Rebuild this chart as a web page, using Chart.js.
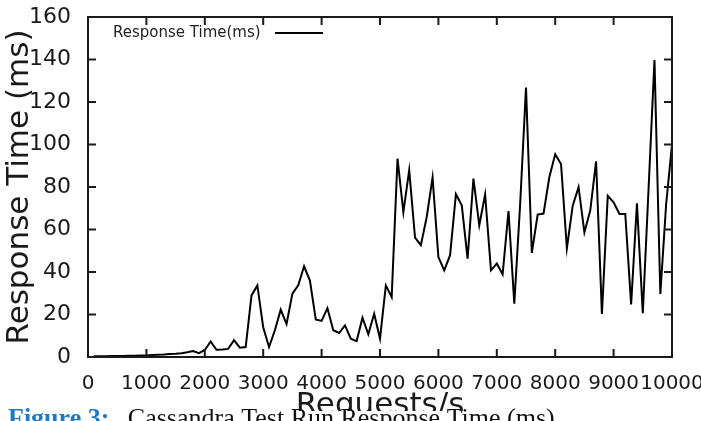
<!DOCTYPE html>
<html>
<head>
<meta charset="utf-8">
<script src="https://cdn.jsdelivr.net/npm/chart.js@4.4.1/dist/chart.umd.min.js"></script>
<style>
html,body{margin:0;padding:0;background:#fff;}
#wrap{width:701px;height:421px;position:relative;}
</style>
</head>
<body>
<div id="wrap"><canvas id="c" width="701" height="421"></canvas></div>
<script>
const requests = [100,200,300,400,500,600,700,800,900,1000,
 1100,1200,1300,1400,1500,1600,1700,1800,1900,2000,
 2100,2200,2300,2400,2500,2600,2700,2800,2900,3000,
 3100,3200,3300,3400,3500,3600,3700,3800,3900,4000,
 4100,4200,4300,4400,4500,4600,4700,4800,4900,5000,
 5100,5200,5300,5400,5500,5600,5700,5800,5900,6000,
 6100,6200,6300,6400,6500,6600,6700,6800,6900,7000,
 7100,7200,7300,7400,7500,7600,7700,7800,7900,8000,
 8100,8200,8300,8400,8500,8600,8700,8800,8900,9000,
 9100,9200,9300,9400,9500,9600,9700,9800,9900,10000];
const responseTime = [0.3,0.35,0.4,0.45,0.5,0.5,0.55,0.6,0.65,0.75,
 0.9,1.1,1.2,1.4,1.5,1.8,2.2,2.8,1.8,3.3,
 7.3,3.4,3.5,3.8,7.9,4.4,4.7,29,33.7,14,
 4.7,12.6,22.3,15.5,29.8,33.7,42.7,36,17.7,17,
 23,12.6,11.3,14.9,8.6,7.5,18.5,10.7,20.4,8.6,
 33.7,28.2,93.4,68.2,87.9,56.2,52.6,65.9,84.4,47,
 40.8,47.9,76.6,71.4,46.3,84,62,76.4,40.8,44,
 38.9,68.7,25.1,72,126.8,49,67,67.5,84.7,95.4,
 90.8,51.2,71.2,79.9,58.7,68.9,92.1,20.2,75.9,72.8,
 67.3,67.3,24.7,72.3,20.6,80,139.8,29.6,72,100];
const seriesLabel = 'Response Time(ms)';
const xTitle = 'Requests/s';
const yTitle = 'Response Time (ms)';
const captionLead = 'Figure 3:';
const captionText = 'Cassandra Test Run Response Time (ms)';

const points = requests.map((r,i)=>({x:r,y:responseTime[i]}));

const frame = {
  id:'frame',
  afterDraw(chart){
    const ctx = chart.ctx;
    const x = chart.scales.x, y = chart.scales.y;
    const L = x.left, R = x.right, T = y.top, B = y.bottom;
    ctx.save();
    ctx.setLineDash([]);
    ctx.strokeStyle = '#1a1a1a';
    ctx.lineWidth = 2;
    ctx.beginPath();
    ctx.moveTo(L,T); ctx.lineTo(R,T); ctx.lineTo(R,B); ctx.lineTo(L,B); ctx.closePath();
    ctx.stroke();
    ctx.beginPath();
    for (const t of x.ticks) {
      if (t.value<=x.min || t.value>=x.max) continue;
      const px = x.getPixelForValue(t.value);
      ctx.moveTo(px,B); ctx.lineTo(px,B-8);
      ctx.moveTo(px,T); ctx.lineTo(px,T+8);
    }
    for (const t of y.ticks) {
      if (t.value<=y.min || t.value>=y.max) continue;
      const py = y.getPixelForValue(t.value);
      ctx.moveTo(L,py); ctx.lineTo(L+8,py);
      ctx.moveTo(R,py); ctx.lineTo(R-8,py);
    }
    ctx.stroke();
    // legend
    ctx.fillStyle = '#222';
    ctx.font = '15px "DejaVu Sans"';
    ctx.textBaseline = 'middle';
    ctx.textAlign = 'left';
    ctx.fillText(chart.data.datasets[0].label, 113, 33);
    ctx.strokeStyle = '#000';
    ctx.lineWidth = 2;
    ctx.beginPath(); ctx.moveTo(275,33); ctx.lineTo(323,33); ctx.stroke();
    // caption strip
    ctx.fillStyle = '#fff';
    ctx.fillRect(0,411,701,10);
    ctx.textBaseline = 'alphabetic';
    ctx.font = 'bold 26px "Liberation Serif"';
    ctx.fillStyle = '#1f78c8';
    ctx.fillText(captionLead, 8, 426);
    const w = ctx.measureText(captionLead + ' ').width;
    ctx.font = '26px "Liberation Serif"';
    ctx.fillStyle = '#111';
    ctx.fillText(captionText, 8 + w + 12, 426);
    ctx.restore();
  }
};

new Chart(document.getElementById('c'), {
  type:'line',
  data:{datasets:[{label:seriesLabel, data:points, borderColor:'#000', borderWidth:2, pointRadius:0, tension:0, fill:false}]},
  options:{
    responsive:false, animation:false,
    layout:{padding:{top:17,right:29,left:0,bottom:0}},
    plugins:{legend:{display:false}, tooltip:{enabled:false}},
    scales:{
      x:{type:'linear', min:0, max:10000,
        afterFit(s){ s.height = 64; s.paddingLeft = 0; s.paddingRight = 0; },
        grid:{display:false}, border:{display:false},
        ticks:{stepSize:1000, autoSkip:false, maxRotation:0, minRotation:0, padding:7, color:'#1a1a1a', font:{family:'DejaVu Sans', size:20}, callback:(v)=>String(v)},
        title:{display:true, text:xTitle, color:'#1a1a1a', font:{family:'DejaVu Sans', size:31}, padding:{top:0,bottom:-4}}
      },
      y:{min:0, max:160,
        afterFit(s){ s.width = 88; s.paddingTop = 0; s.paddingBottom = 0; },
        grid:{display:false}, border:{display:false},
        ticks:{stepSize:20, padding:9, color:'#1a1a1a', font:{family:'DejaVu Sans', size:22}},
        title:{display:true, text:yTitle, color:'#1a1a1a', font:{family:'DejaVu Sans', size:31}, padding:{top:1,bottom:0}}
      }
    }
  },
  plugins:[frame]
});
</script>
</body>
</html>
